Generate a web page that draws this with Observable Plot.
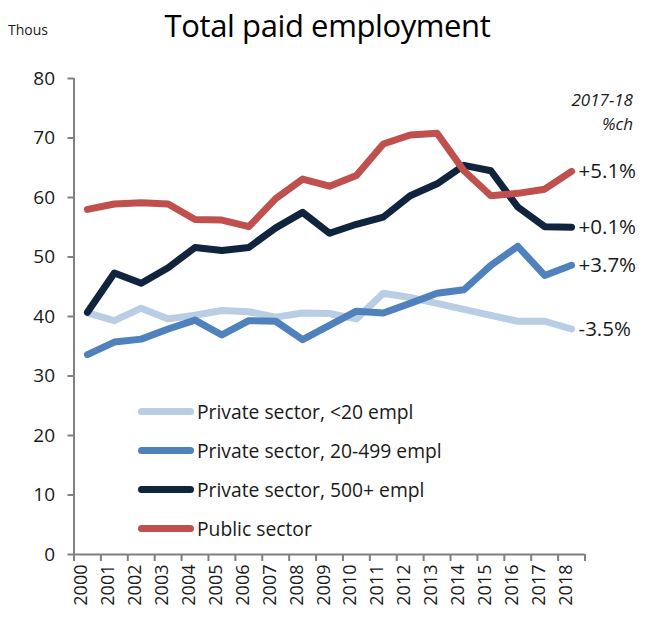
<!DOCTYPE html>
<html>
<head>
<meta charset="utf-8">
<script src="https://cdn.jsdelivr.net/npm/d3@7"></script>
<script src="https://cdn.jsdelivr.net/npm/@observablehq/plot@0.6"></script>
<style>
  html, body { margin: 0; padding: 0; background: #fff; }
  #wrap { position: relative; width: 645px; height: 617px; font-family: "Open Sans", sans-serif; color: #1a1a1a; }
  #wrap svg { position: absolute; left: 0; top: 0; }
  .ov { position: absolute; white-space: nowrap; }
  #title { left: 0; width: 655px; top: 7px; text-align: center; font-size: 31px; line-height: 36px; letter-spacing: -0.4px; color: #000; }
  #thous { left: 8px; top: 20px; font-size: 14px; }
  #chg { right: 12px; top: 88px; font-size: 17px; font-style: italic; text-align: right; line-height: 24px; }
  #legend { left: 138px; top: 392px; font-size: 19.3px; }
  #legend .row { display: flex; align-items: center; height: 39px; }
  #legend .sw { width: 56px; height: 7px; border-radius: 4px; margin-right: 3px; }
</style>
</head>
<body>
<div id="wrap">
  <div class="ov" id="title">Total paid employment</div>
  <div class="ov" id="thous">Thous</div>
  <div class="ov" id="chg">2017-18<br>%ch</div>
  <div class="ov" id="legend"></div>
</div>
<script>
const years = [2000,2001,2002,2003,2004,2005,2006,2007,2008,2009,2010,2011,2012,2013,2014,2015,2016,2017,2018];
const seriesNames = ["Private sector, <20 empl","Private sector, 20-499 empl","Private sector, 500+ empl","Public sector"];
const seriesColors = ["#b9cde5","#4f81bd","#10243e","#c0504d"];
const small   = [40.6,39.3,41.4,39.6,40.2,41.0,40.8,39.9,40.6,40.5,39.6,43.9,43.2,42.2,41.2,40.2,39.2,39.2,37.9];
const medium  = [33.6,35.7,36.2,37.9,39.4,36.9,39.3,39.2,36.1,38.5,40.9,40.6,42.2,43.9,44.5,48.6,51.8,46.9,48.6];
const large   = [40.7,47.3,45.6,48.2,51.6,51.1,51.6,54.9,57.5,54.0,55.5,56.7,60.3,62.3,65.4,64.5,58.4,55.1,55.0];
const pub     = [58.0,58.9,59.1,58.9,56.3,56.2,55.1,59.8,63.1,61.9,63.7,69.0,70.5,70.8,64.5,60.3,60.7,61.4,64.4];
const endLabels = ["-3.5%","+3.7%","+0.1%","+5.1%"];
const yTicks = [0,10,20,30,40,50,60,70,80];

const allSeries = [small, medium, large, pub];
const rows = [];
allSeries.forEach((vals, si) => vals.forEach((v, i) => rows.push({series: seriesNames[si], year: years[i], value: v})));
const ends = allSeries.map((vals, si) => ({series: seriesNames[si], year: years[years.length-1], value: vals[vals.length-1], label: endLabels[si]}));

const xMin = d3.min(years) - 0.5, xMax = d3.max(years) + 0.5;
const bounds = d3.range(xMin, xMax + 0.01, 1);
const gray = "#808080";

const chart = Plot.plot({
  width: 645,
  height: 617,
  marginTop: 78,
  marginBottom: 63,
  marginLeft: 73.5,
  marginRight: 60.5,
  style: {fontFamily: "'Open Sans', sans-serif", color: "#1a1a1a", background: "transparent"},
  x: {type: "linear", domain: [xMin, xMax], axis: null},
  y: {domain: [0, 80], axis: null},
  color: {domain: seriesNames, range: seriesColors},
  marks: [
    Plot.ruleY([0], {stroke: gray, strokeWidth: 2}),
    Plot.ruleX([xMin], {stroke: gray, strokeWidth: 2}),
    Plot.axisY({ticks: yTicks, tickSize: 6, tickPadding: 13, fontSize: 19, stroke: gray, strokeWidth: 2, fill: "#1a1a1a", label: null}),
    Plot.axisX({ticks: bounds, tickSize: 7, tickFormat: () => "", stroke: gray, strokeWidth: 2, label: null}),
    Plot.text(years, {x: d => d, frameAnchor: "bottom", text: d => String(d), rotate: -90, textAnchor: "end", dy: 10, fontSize: 18, fill: "#1a1a1a"}),
    Plot.line(rows, {x: "year", y: "value", z: "series", stroke: "series", strokeWidth: 7, strokeLinejoin: "round", strokeLinecap: "round"}),
    Plot.text(ends, {x: "year", y: "value", text: "label", dx: 7, textAnchor: "start", fontSize: 20.5, fill: "#1a1a1a"})
  ]
});
document.getElementById("wrap").prepend(chart);

const legend = document.getElementById("legend");
seriesNames.forEach((n, i) => {
  const row = document.createElement("div");
  row.className = "row";
  const sw = document.createElement("div");
  sw.className = "sw";
  sw.style.background = seriesColors[i];
  const t = document.createElement("span");
  t.textContent = n;
  row.appendChild(sw); row.appendChild(t);
  legend.appendChild(row);
});
</script>
</body>
</html>
